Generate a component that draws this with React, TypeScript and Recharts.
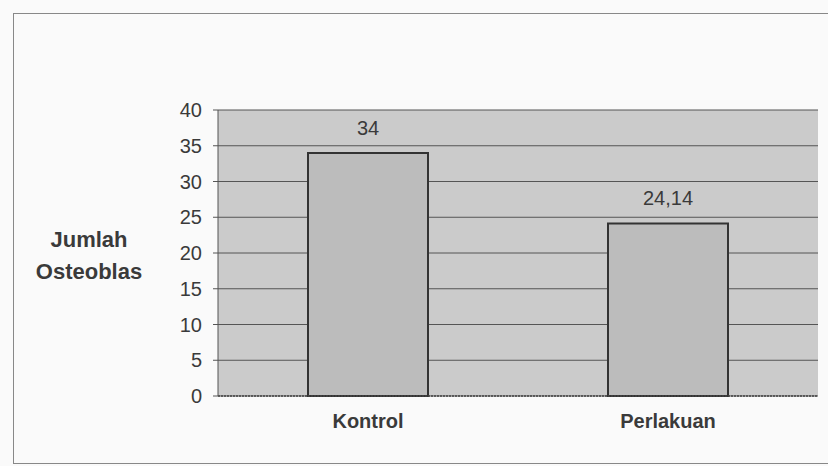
import React from 'react';
import { BarChart, Bar, XAxis, YAxis, CartesianGrid, LabelList } from 'recharts';

const categories = ['Kontrol', 'Perlakuan'];
const values = [34, 24.14];
const yTicks = [0, 5, 10, 15, 20, 25, 30, 35, 40];

const data = categories.map((name, i) => ({ name, value: values[i] }));

const FONT = 'Liberation Sans, Arial, sans-serif';

const YLabel = (props: any) => {
  const vb = props.viewBox || {};
  const cy = vb.y + vb.height / 2;
  return (
    <text x={89} y={cy} textAnchor="middle" fill="#3a3a3a" fontSize={22} fontWeight="bold" fontFamily={FONT}>
      <tspan x={89} dy={-6}>Jumlah</tspan>
      <tspan x={89} dy={32}>Osteoblas</tspan>
    </text>
  );
};

export default function App() {
  return (
    <div style={{ position: 'absolute', left: 0, top: 0, width: 828, height: 466, background: '#fafafa' }}>
      <div style={{ position: 'absolute', left: 13, top: 13, width: 815, height: 449, borderLeft: '1px solid #888', borderTop: '1px solid #888', borderBottom: '1px solid #888' }} />
      <BarChart
        width={828}
        height={466}
        data={data}
        margin={{ top: 110, right: 10, bottom: 40, left: 0 }}
        barCategoryGap="30%"
        style={{ position: 'absolute', left: 0, top: 0 }}
      >
        <CartesianGrid vertical={false} stroke="#555" strokeWidth={1} fill="#cbcbcb" fillOpacity={1} />
        <XAxis
          dataKey="name"
          tickLine={false}
          axisLine={{ stroke: '#444', strokeWidth: 1.5, strokeDasharray: '2 1' }}
          tick={{ fill: '#3a3a3a', fontSize: 20, fontWeight: 'bold', fontFamily: FONT }}
          tickMargin={12}
        />
        <YAxis
          width={218}
          domain={[0, 40]}
          ticks={yTicks}
          interval={0}
          tickSize={5}
          tickLine={{ stroke: '#555' }}
          axisLine={{ stroke: '#555' }}
          tick={{ fill: '#3a3a3a', fontSize: 20, fontFamily: FONT }}
          tickMargin={11}
          label={<YLabel />}
        />
        <Bar dataKey="value" fill="#bcbcbc" stroke="#333" strokeWidth={2} isAnimationActive={false}>
          <LabelList
            dataKey="value"
            position="top"
            offset={18}
            formatter={(v: any) => String(v).replace('.', ',')}
            style={{ fill: '#3a3a3a', fontSize: 20, fontFamily: FONT }}
          />
        </Bar>
      </BarChart>
    </div>
  );
}
